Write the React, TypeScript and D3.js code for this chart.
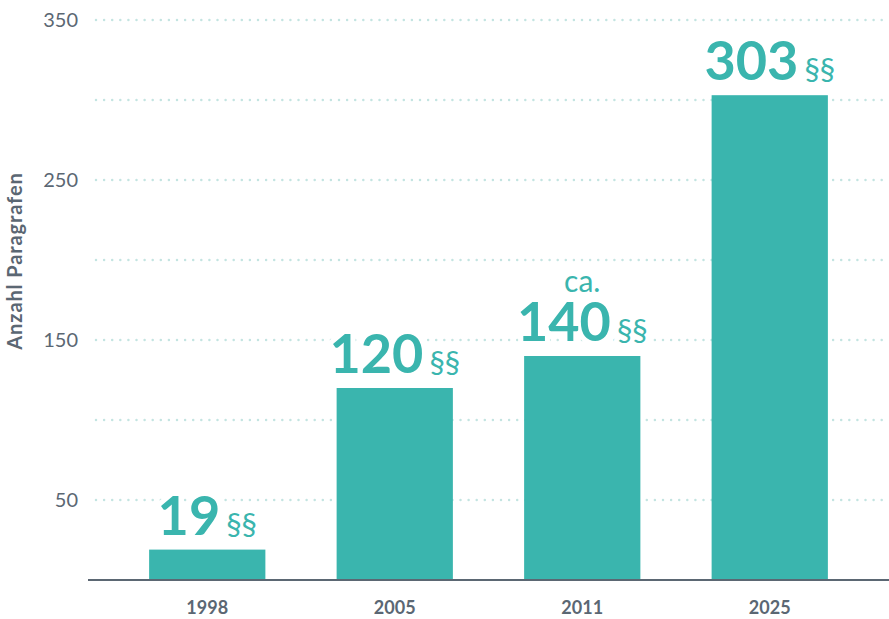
import React, { useEffect, useRef } from 'react';
import * as d3 from 'd3';

const years = ['1998', '2005', '2011', '2025'];
const paragraphs = [19, 120, 140, 303];
const prefixes = ['', '', 'ca.', ''];
const yTicks = [50, 150, 250, 350];
const gridValues = [50, 100, 150, 200, 250, 300, 350];

const TEAL = '#3ab5ae';
const GREY = '#5b6773';

const App: React.FC = () => {
    const chartRef = useRef<SVGSVGElement>(null);

    useEffect(() => {
        if (!chartRef.current) return;
        const svg = d3.select(chartRef.current);
        svg.selectAll('*').remove();

        const width = 889;
        const height = 619;
        const baseY = 580;

        const x = d3.scaleBand<string>()
            .domain(years)
            .range([113.5, 863.5])
            .paddingInner(0.38)
            .paddingOuter(0.19);

        const y = d3.scaleLinear()
            .domain([0, 350])
            .range([baseY, 20]);

        svg.attr('width', width).attr('height', height);

        // dotted grid
        svg.selectAll('line.grid')
            .data(gridValues)
            .enter()
            .append('line')
            .attr('class', 'grid')
            .attr('x1', 96)
            .attr('x2', width)
            .attr('y1', d => y(d))
            .attr('y2', d => y(d))
            .attr('stroke', '#c3e4e1')
            .attr('stroke-width', 2.5)
            .attr('stroke-linecap', 'round')
            .attr('stroke-dasharray', '0,8.1');

        // tick labels
        svg.selectAll('text.y-label')
            .data(yTicks)
            .enter()
            .append('text')
            .attr('class', 'y-label')
            .attr('x', 78)
            .attr('y', d => y(d) + 7)
            .attr('text-anchor', 'end')
            .attr('fill', GREY)
            .attr('font-family', 'Lato, sans-serif')
            .attr('font-size', '20px')
            .text(d => d);

        // axis title
        svg.append('text')
            .attr('transform', 'translate(22,261) rotate(-90)')
            .attr('text-anchor', 'middle')
            .attr('fill', GREY)
            .attr('font-family', 'Lato, sans-serif')
            .attr('font-weight', 'bold')
            .attr('font-size', '20px')
            .attr('letter-spacing', '0.9px')
            .text('Anzahl Paragrafen');

        const rows = years.map((yr, i) => ({ yr, v: paragraphs[i], pre: prefixes[i] }));

        // bars
        svg.selectAll('rect.bar')
            .data(rows)
            .enter()
            .append('rect')
            .attr('class', 'bar')
            .attr('x', d => x(d.yr) as number)
            .attr('y', d => y(d.v))
            .attr('width', x.bandwidth())
            .attr('height', d => baseY - y(d.v))
            .attr('fill', TEAL);

        // baseline
        svg.append('line')
            .attr('x1', 88)
            .attr('x2', width)
            .attr('y1', baseY)
            .attr('y2', baseY)
            .attr('stroke', GREY)
            .attr('stroke-width', 2);

        // year labels
        svg.selectAll('text.x-label')
            .data(rows)
            .enter()
            .append('text')
            .attr('class', 'x-label')
            .attr('x', d => (x(d.yr) as number) + x.bandwidth() / 2)
            .attr('y', 614)
            .attr('text-anchor', 'middle')
            .attr('fill', GREY)
            .attr('font-family', 'Lato, sans-serif')
            .attr('font-weight', 'bold')
            .attr('font-size', '18px')
            .text(d => d.yr);

        // value labels
        const labels = svg.selectAll('text.value')
            .data(rows)
            .enter()
            .append('text')
            .attr('class', 'value')
            .attr('x', d => (x(d.yr) as number) + x.bandwidth() / 2)
            .attr('y', d => y(d.v) - 15)
            .attr('text-anchor', 'middle')
            .attr('fill', TEAL)
            .attr('stroke', 'white')
            .attr('stroke-width', 10)
            .attr('stroke-linejoin', 'round')
            .attr('paint-order', 'stroke')
            .attr('font-family', 'Lato, sans-serif');

        labels.append('tspan')
            .attr('font-weight', 'bold')
            .attr('font-size', '54px')
            .text(d => d.v);

        labels.append('tspan')
            .attr('dx', 6)
            .attr('font-size', '31px')
            .text('§§');

        svg.selectAll('text.prefix')
            .data(rows.filter(d => d.pre))
            .enter()
            .append('text')
            .attr('class', 'prefix')
            .attr('x', d => (x(d.yr) as number) + x.bandwidth() / 2)
            .attr('y', d => y(d.v) - 64)
            .attr('text-anchor', 'middle')
            .attr('fill', TEAL)
            .attr('font-family', 'Lato, sans-serif')
            .attr('font-size', '30px')
            .text(d => d.pre);
    }, []);

    return (
        <svg
            ref={chartRef}
            style={{ position: 'absolute', top: 0, left: 0, display: 'block' }}
        />
    );
};

export default App;
